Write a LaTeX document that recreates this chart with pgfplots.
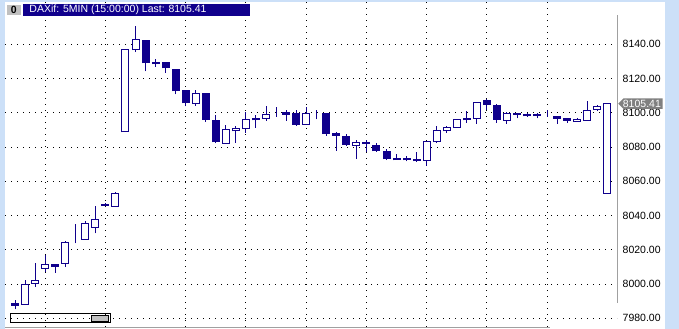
\documentclass[border=0pt]{standalone}
\usepackage{fontspec}
\setmainfont{Liberation Sans}
\usepackage{pgfplots}
\usepackage{pgfplotstable}
\pgfplotsset{compat=1.18}
\definecolor{navy}{RGB}{16,0,140}
\definecolor{lightbg}{RGB}{204,224,248}
\definecolor{boxgray}{RGB}{192,192,192}
\definecolor{linegray}{RGB}{160,160,160}
\definecolor{lastgray}{RGB}{128,128,128}

\pgfplotstableread{
i o h l c
1 7988.3 8002.3 7988.3 8000.0
2 8000.4 8012.4 7998.4 8002.3
3 8009.1 8016.9 8007.2 8011.5
5 8012.1 8025.0 8010.1 8024.3
7 8026.1 8036.9 8026.1 8035.4
8 8033.1 8045.5 8029.6 8037.7
10 8045.5 8053.6 8045.5 8052.9
11 8088.8 8137.5 8088.8 8136.9
12 8136.9 8150.7 8135.5 8142.7
18 8105.4 8113.2 8104.0 8111.2
21 8082.1 8092.7 8082.1 8090.2
22 8089.4 8092.2 8082.4 8090.8
23 8090.8 8100.5 8088.3 8096.1
25 8096.7 8103.8 8095.3 8099.2
29 8093.2 8103.1 8093.2 8099.6
34 8080.9 8084.0 8072.9 8082.4
41 8072.3 8083.4 8069.0 8083.4
42 8083.0 8092.2 8082.4 8089.8
43 8089.4 8092.2 8088.3 8091.4
44 8091.4 8096.1 8091.4 8096.1
46 8096.7 8106.3 8093.7 8106.3
49 8095.7 8100.5 8093.7 8099.6
56 8094.9 8096.7 8094.9 8096.1
57 8095.5 8106.7 8095.5 8101.5
58 8101.9 8104.4 8101.1 8103.8
59 8052.9 8106.0 8052.9 8105.41
}\upcandles

\pgfplotstableread{
i o h l c
0 7988.8 7990.6 7985.2 7987.6
4 8011.2 8011.2 8006.6 8010.2
9 8046.6 8047.2 8045.5 8045.8
13 8142.3 8142.3 8124.2 8129.1
14 8129.6 8131.7 8126.8 8128.6
15 8129.1 8129.1 8123.3 8126.2
16 8125.4 8125.8 8110.8 8112.8
17 8113.2 8113.2 8103.8 8105.8
19 8111.2 8111.2 8094.7 8096.1
20 8095.7 8098.6 8082.1 8083.0
24 8096.9 8098.6 8091.4 8095.9
27 8100.0 8101.9 8095.3 8099.2
28 8099.6 8101.9 8092.3 8093.2
31 8099.6 8099.6 8086.5 8087.9
32 8087.9 8088.8 8077.7 8086.9
33 8086.3 8087.9 8080.7 8081.5
35 8082.8 8084.4 8077.2 8082.0
36 8081.1 8082.1 8077.2 8077.7
37 8077.6 8078.6 8072.3 8073.1
38 8073.5 8075.8 8072.5 8072.5
39 8073.5 8075.0 8071.7 8072.5
40 8072.9 8077.2 8071.3 8071.9
45 8096.7 8100.9 8094.1 8095.9
47 8107.3 8107.9 8101.9 8104.8
48 8104.4 8105.0 8094.1 8096.1
50 8099.6 8099.6 8096.7 8099.0
51 8098.8 8099.6 8097.6 8098.2
52 8098.9 8099.6 8096.7 8098.3
54 8097.6 8097.6 8093.7 8096.8
55 8096.7 8097.2 8094.1 8095.5
}\downcandles

\pgfplotstableread{
i o h l c
6 8030.0 8035.0 8023.7 8030.0
26 8100.0 8103.1 8097.6 8100.0
30 8099.0 8101.9 8096.2 8099.0
53 8099.5 8101.5 8097.6 8099.5
}\dojicandles

\pgfplotsset{
  wick/.style={draw=none, mark=none, forget plot,
    error bars/.cd, y dir=plus, y explicit, error mark=none,
    error bar style={draw=navy, line width=1bp}},
  body/.style 2 args={draw=none, mark=none, forget plot,
    error bars/.cd, y dir=plus, y explicit, error mark=none,
    error bar style={draw=#1, line width=#2}},
}

\begin{document}
\fontsize{10.5bp}{12bp}\selectfont
\begin{tikzpicture}
\fill[lightbg] (0,0) rectangle (679bp,329bp);
\fill[white] (5bp,0) rectangle (665bp,327bp);
\begin{axis}[
  at={(5bp,2bp)}, anchor=south west,
  scale only axis, width=612bp, height=325bp,
  xmin=-1, xmax=59.96,
  ymin=7974.92, ymax=8164.70,
  axis line style={draw=none},
  xtick={3,9,17,23,29,35,41,47,53},
  xmajorticks=false,
  ytick={7980,8000,8020,8040,8060,8080,8100,8120,8140},
  yticklabel pos=right,
  major tick length=0pt,
  xmajorgrids=true, ymajorgrids=true,
  major grid style={black, line width=1bp, dash pattern=on 1bp off 5bp},
  yticklabel style={anchor=west, inner sep=0pt, xshift=5.5bp,
    font=\fontsize{10.5bp}{12bp}\selectfont,
    /pgf/number format/.cd, fixed, fixed zerofill, precision=2, 1000 sep={}, assume math mode=true},
]
% wicks
\addplot[wick] table[x=i, y=l, y error plus expr=\thisrow{h}-\thisrow{l}] {\upcandles};
\addplot[wick] table[x=i, y=l, y error plus expr=\thisrow{h}-\thisrow{l}] {\downcandles};
\addplot[wick] table[x=i, y=l, y error plus expr=\thisrow{h}-\thisrow{l}] {\dojicandles};
% down bodies (filled)
\addplot[body={navy}{8bp}] table[x=i, y expr=\thisrow{c}-0.29, y error plus expr=\thisrow{o}-\thisrow{c}+0.58] {\downcandles};
% up bodies (hollow)
\addplot[body={navy}{8bp}] table[x=i, y expr=\thisrow{o}-0.29, y error plus expr=\thisrow{c}-\thisrow{o}+0.58] {\upcandles};
\addplot[body={white}{6bp}] table[x=i, y expr=\thisrow{o}+0.29, y error plus expr=\thisrow{c}-\thisrow{o}-0.58] {\upcandles};
\end{axis}
\begin{scope}[shift={(0,329bp)}, x=1bp, y=-1bp]
  % axis frame lines
  \draw[linegray, line width=1bp] (617.3,15.5) -- (617.3,303);
  \draw[linegray, line width=1bp] (5,327.3) -- (550,327.3);
  % title
  \fill[boxgray] (6.7,5) rectangle (21,15);
  \node[font=\fontsize{10.5bp}{12bp}\selectfont\bfseries, inner sep=0pt] at (13.9,10) {0};
  \fill[navy] (22.7,4) rectangle (250,16.3);
  \node[anchor=west, text=white, inner sep=0pt] at (29.3,10.2) {DAXif: 5MIN (15:00:00) Last: 8105.41};
  % last price marker
  \fill[lastgray] (618.3,103.7) -- (623.5,98.3) -- (662.7,98.3) -- (662.7,109) -- (623.5,109) -- cycle;
  \node[anchor=west, text=white, inner sep=0pt] at (622.7,103.8) {8105.41};
  % scrollbar
  \draw[black, line width=1bp] (10.7,313.3) rectangle (110.7,322.7);
  \draw[black, line width=1bp, fill=boxgray] (91,315.3) rectangle (108.7,321.3);
\end{scope}
\pgfresetboundingbox
\useasboundingbox (0,0) rectangle (679bp,329bp);
\end{tikzpicture}
\end{document}
